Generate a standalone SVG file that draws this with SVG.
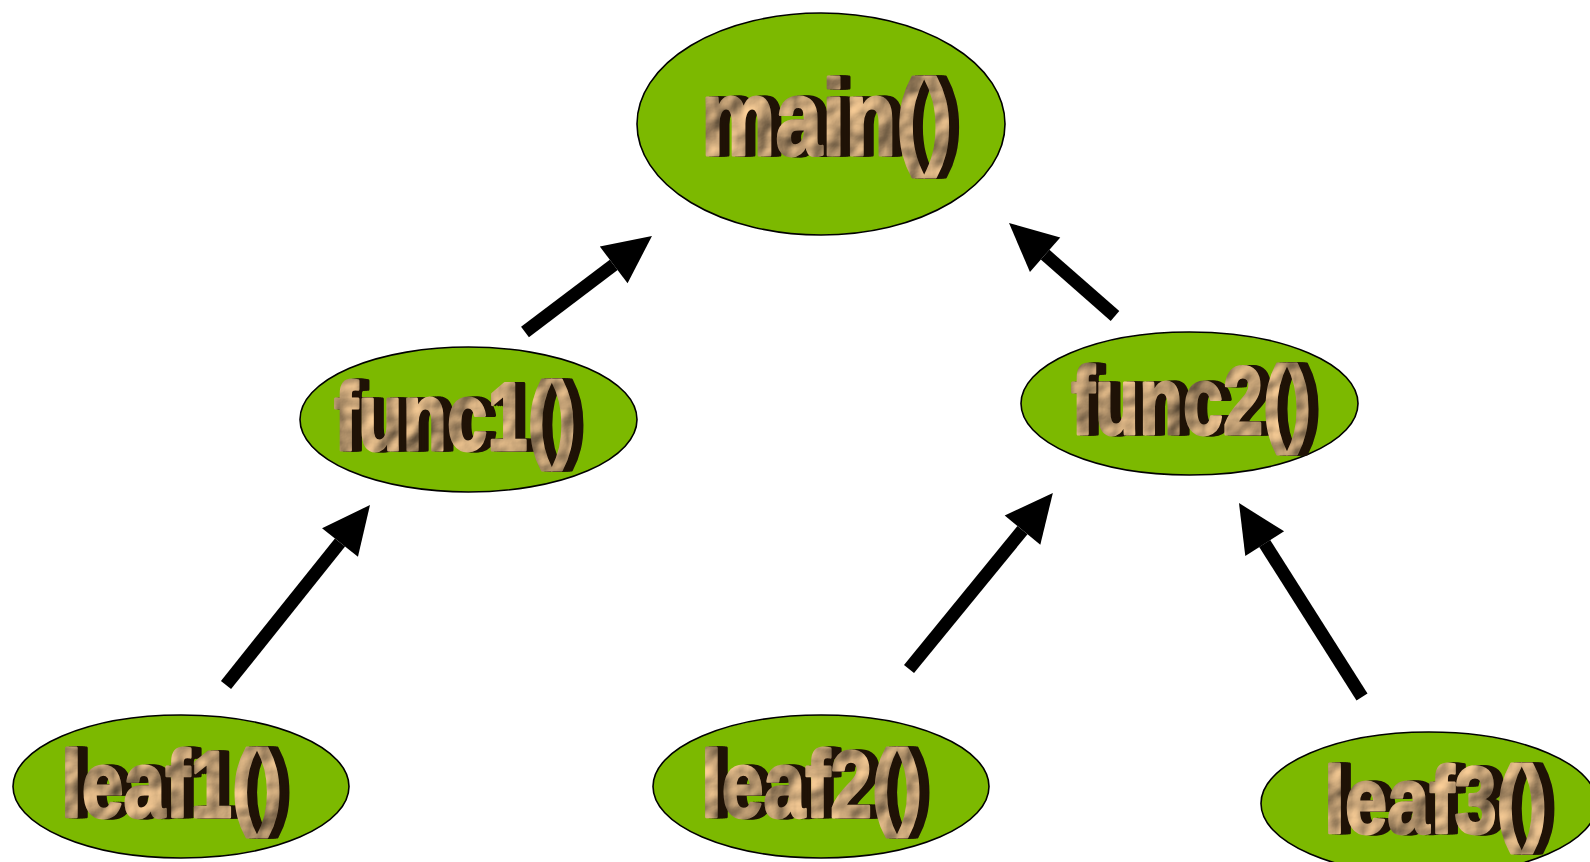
<svg xmlns="http://www.w3.org/2000/svg" width="1590" height="862" viewBox="0 0 1590 862">
  <style>
    .node ellipse { fill: #7cb900; stroke: #000; stroke-width: 1.6; }
    .label { font-family: "Liberation Sans", Arial, sans-serif; font-weight: bold; fill: #c9a274; stroke: #c9a274; stroke-width: 3; stroke-linejoin: round; filter: url(#wordart); }
    .edge { stroke: #000; stroke-width: 13; fill: none; stroke-linecap: butt; marker-end: url(#head); }
  </style>
  <defs>
    <!-- crumpled-paper face with a dark extrusion to the right -->
    <filter id="wordart" x="-5%" y="-15%" width="115%" height="130%" color-interpolation-filters="sRGB">
      <feFlood flood-color="#1f1206" result="dk"/>
      <feComposite in="dk" in2="SourceAlpha" operator="in" result="dkShape"/>
      <feOffset in="dkShape" dx="3" result="o1"/>
      <feOffset in="dkShape" dx="6" result="o2"/>
      <feOffset in="dkShape" dx="8" result="o3"/>
      <feOffset in="dkShape" dx="10" result="o4"/>
      <feTurbulence type="fractalNoise" baseFrequency="0.022" numOctaves="3" seed="11" result="noise"/>
      <feDiffuseLighting in="noise" surfaceScale="7" diffuseConstant="1.05" lighting-color="#ffd29a" result="lit">
        <feDistantLight azimuth="225" elevation="45"/>
      </feDiffuseLighting>
      <feComposite in="lit" in2="SourceAlpha" operator="in" result="face"/>
      <feMerge>
        <feMergeNode in="o4"/>
        <feMergeNode in="o3"/>
        <feMergeNode in="o2"/>
        <feMergeNode in="o1"/>
        <feMergeNode in="face"/>
      </feMerge>
    </filter>
    <marker id="head" markerUnits="userSpaceOnUse" viewBox="0 -24 48 48" refX="0" refY="0" markerWidth="48" markerHeight="48" orient="auto" overflow="visible">
      <path d="M0,-23 L48,0 L0,23 Z" fill="#000"/>
    </marker>
  </defs>

  <g id="connectors">
    <line class="edge" x1="525" y1="332" x2="613.7" y2="264.9"/>
    <line class="edge" x1="1115" y1="316" x2="1045.1" y2="254.7"/>
    <line class="edge" x1="226" y1="685" x2="340" y2="542.5"/>
    <line class="edge" x1="909" y1="669" x2="1022.5" y2="530.1"/>
    <line class="edge" x1="1362" y1="697" x2="1264.7" y2="543.6"/>
  </g>

  <g id="node-main" class="node">
    <ellipse cx="821" cy="124" rx="184" ry="111"/>
    <text class="label" x="701" y="155" font-size="108" textLength="251" lengthAdjust="spacingAndGlyphs">main()</text>
  </g>
  <g id="node-func1" class="node">
    <ellipse cx="468.5" cy="419.5" rx="168.5" ry="72.5"/>
    <text class="label" x="334" y="450" font-size="96" textLength="242" lengthAdjust="spacingAndGlyphs">func1()</text>
  </g>
  <g id="node-func2" class="node">
    <ellipse cx="1189.5" cy="403.5" rx="168.5" ry="71.5"/>
    <text class="label" x="1071" y="434" font-size="97" textLength="240" lengthAdjust="spacingAndGlyphs">func2()</text>
  </g>
  <g id="node-leaf1" class="node">
    <ellipse cx="181" cy="786.5" rx="168" ry="71.5"/>
    <text class="label" x="61" y="817" font-size="95" textLength="221" lengthAdjust="spacingAndGlyphs">leaf1()</text>
  </g>
  <g id="node-leaf2" class="node">
    <ellipse cx="821" cy="786.5" rx="168" ry="71.5"/>
    <text class="label" x="701" y="817" font-size="95" textLength="221" lengthAdjust="spacingAndGlyphs">leaf2()</text>
  </g>
  <g id="node-leaf3" class="node">
    <ellipse cx="1429" cy="803.5" rx="168" ry="71.5"/>
    <text class="label" x="1324" y="833" font-size="95" textLength="223" lengthAdjust="spacingAndGlyphs">leaf3()</text>
  </g>
</svg>
